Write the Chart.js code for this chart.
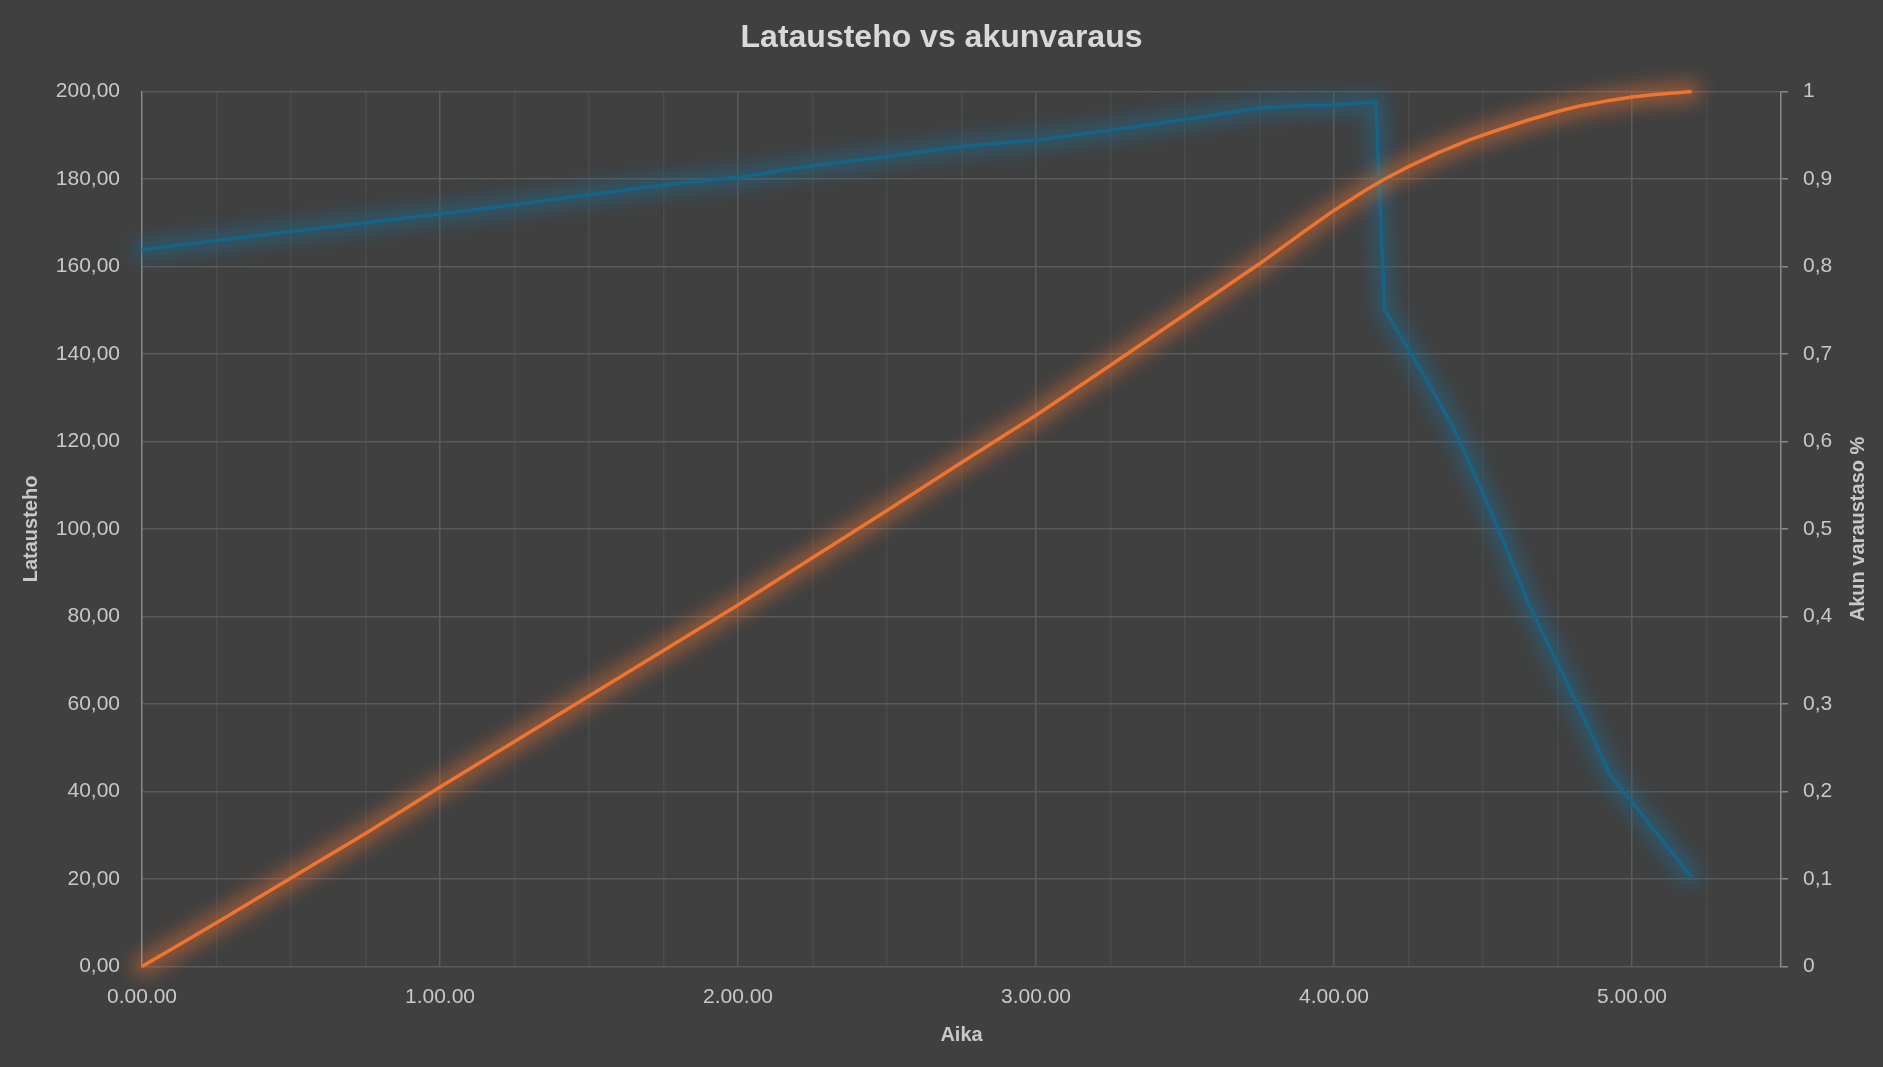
<!DOCTYPE html>
<html>
<head>
<meta charset="utf-8">
<script src="https://cdn.jsdelivr.net/npm/chart.js@4.4.1/dist/chart.umd.min.js"></script>
<style>
  html, body { margin: 0; padding: 0; background: #404040; }
  #wrap { width: 1883px; height: 1067px; }
</style>
</head>
<body>
<div id="wrap"><canvas id="c" width="1883" height="1067"></canvas></div>
<script>
// Time in hours since start (x axis "Aika")
const timeHours = [0, 0.25, 0.5, 0.75, 1.0, 1.25, 1.5, 1.75, 2.0, 2.25, 2.5, 2.75, 3.0, 3.25, 3.5, 3.75, 3.9, 4.0, 4.1, 4.14, 4.17, 4.25, 4.3, 4.35, 4.4, 4.45, 4.5, 4.56, 4.65, 4.75, 4.82, 4.93, 5.0, 5.06, 5.2];
// Charging power (left axis "Latausteho")
const latausteho = [163.8, 165.9, 168.0, 170.0, 172.0, 174.1, 176.4, 178.6, 180.4, 183.0, 185.1, 187.4, 188.9, 191.1, 193.6, 196.2, 196.8, 196.9, 197.4, 197.6, 150.2, 141.0, 135.3, 129.3, 123.2, 115.8, 108.1, 98.6, 83.3, 69.3, 59.4, 43.4, 37.6, 32.4, 20.5];
// Battery level fraction (right axis "Akun varaustaso %")
const varaustaso = [0, 0.050, 0.101, 0.152, 0.205, 0.257, 0.309, 0.361, 0.413, 0.467, 0.521, 0.576, 0.630, 0.687, 0.745, 0.803, 0.840, 0.864, 0.886, 0.894, 0.900, 0.914, 0.922, 0.930, 0.937, 0.944, 0.950, 0.957, 0.967, 0.977, 0.983, 0.990, 0.9935, 0.996, 1.0];

const chartTitle = 'Latausteho vs akunvaraus';
const xTitle = 'Aika';
const yLeftTitle = 'Latausteho';
const yRightTitle = 'Akun varaustaso %';

const FONT = "'Liberation Sans', Arial, sans-serif";
const TEXT = '#c8c8c8';
const GRID_MAJOR = '#5a5a5a';
const GRID_MINOR = '#4b4b4b';
const AXIS_LINE = '#8a8a8a';

const toPts = (ys) => timeHours.map((t, i) => ({ x: t, y: ys[i] }));

// Soft glow drawn under each line, following the points placed by the library
const glowPlugin = {
  id: 'glow',
  beforeDatasetDraw(chart, args) {
    const ctx = chart.ctx;
    const ds = chart.data.datasets[args.index];
    const pts = args.meta.data;
    if (!pts.length) return;
    ctx.save();
    ctx.filter = 'blur(9px)';
    ctx.strokeStyle = ds.glowColor;
    ctx.lineWidth = 20;
    ctx.lineJoin = 'round';
    ctx.lineCap = 'round';
    ctx.beginPath();
    ctx.moveTo(pts[0].x, pts[0].y);
    for (let i = 1; i < pts.length; i++) ctx.lineTo(pts[i].x, pts[i].y);
    ctx.stroke();
    ctx.restore();
  }
};

// Right axis title, reading bottom-to-top like the reference
const rightTitlePlugin = {
  id: 'rightTitle',
  afterDraw(chart) {
    const ctx = chart.ctx;
    const a = chart.chartArea;
    ctx.save();
    ctx.translate(1858, (a.top + a.bottom) / 2);
    ctx.rotate(-Math.PI / 2);
    ctx.fillStyle = TEXT;
    ctx.font = "bold 20px " + FONT;
    ctx.textAlign = 'center';
    ctx.textBaseline = 'middle';
    ctx.fillText(yRightTitle, 0, 0);
    ctx.restore();
  }
};

const isMajor = (v) => Math.abs(v - Math.round(v)) < 1e-6;

new Chart(document.getElementById('c'), {
  type: 'scatter',
  data: {
    datasets: [
      {
        label: 'Akun varaustaso %',
        data: toPts(varaustaso),
        yAxisID: 'y1',
        showLine: true,
        borderColor: '#EE7430',
        glowColor: 'rgba(233,113,50,0.5)',
        borderWidth: 3.5,
        pointRadius: 0,
        tension: 0,
        clip: false,
        order: 1
      },
      {
        label: 'Latausteho',
        data: toPts(latausteho),
        yAxisID: 'y',
        showLine: true,
        borderColor: '#166488',
        glowColor: 'rgba(30,110,150,0.5)',
        borderWidth: 3.5,
        pointRadius: 0,
        tension: 0,
        clip: false,
        order: 2
      }
    ]
  },
  options: {
    responsive: false,
    animation: false,
    layout: { padding: 0 },
    plugins: {
      legend: { display: false },
      tooltip: { enabled: false },
      title: {
        display: true,
        text: chartTitle,
        color: '#d9d9d9',
        font: { family: FONT, size: 32, weight: 'bold' },
        padding: { top: 19, bottom: 34 }
      }
    },
    scales: {
      x: {
        type: 'linear',
        min: 0,
        max: 5.5,
        afterFit(scale) { scale.height = 100.5; },
        ticks: {
          stepSize: 0.25,
          autoSkip: false,
          maxRotation: 0,
          padding: 18,
          color: TEXT,
          font: { family: FONT, size: 21 },
          callback: (v) => isMajor(v) ? (Math.round(v) + '.00.00') : ''
        },
        grid: {
          drawTicks: false,
          color: (c) => {
            const v = c.tick ? c.tick.value : 0;
            if (v === 0 || v >= 5.5) return 'rgba(0,0,0,0)';
            return isMajor(v) ? GRID_MAJOR : GRID_MINOR;
          },
          lineWidth: 1.5
        },
        border: { display: false },
        title: {
          display: true,
          text: xTitle,
          color: TEXT,
          font: { family: FONT, size: 20, weight: 'bold' },
          padding: { top: 4, bottom: 20 }
        }
      },
      y: {
        position: 'left',
        min: 0,
        max: 200,
        afterFit(scale) { scale.width = 142; },
        ticks: {
          stepSize: 20,
          padding: 22,
          color: TEXT,
          font: { family: FONT, size: 21 },
          callback: (v) => v.toFixed(2).replace('.', ',')
        },
        grid: { drawTicks: false, color: GRID_MAJOR, lineWidth: 1.5 },
        border: { display: true, color: AXIS_LINE, width: 1.5 },
        title: {
          display: true,
          text: yLeftTitle,
          color: TEXT,
          font: { family: FONT, size: 20, weight: 'bold' },
          padding: { top: 19, bottom: 4 }
        }
      },
      y1: {
        position: 'right',
        min: 0,
        max: 1,
        afterFit(scale) { scale.width = 102; },
        ticks: {
          stepSize: 0.1,
          padding: 15,
          color: TEXT,
          font: { family: FONT, size: 21 },
          callback: (v) => {
            const r = Math.round(v * 10) / 10;
            return String(r).replace('.', ',');
          }
        },
        grid: {
          drawOnChartArea: false,
          drawTicks: true,
          tickLength: 7,
          tickColor: AXIS_LINE,
          lineWidth: 1.5
        },
        border: { display: true, color: AXIS_LINE, width: 1.5 },
        title: { display: false }
      }
    }
  },
  plugins: [glowPlugin, rightTitlePlugin]
});
</script>
</body>
</html>
